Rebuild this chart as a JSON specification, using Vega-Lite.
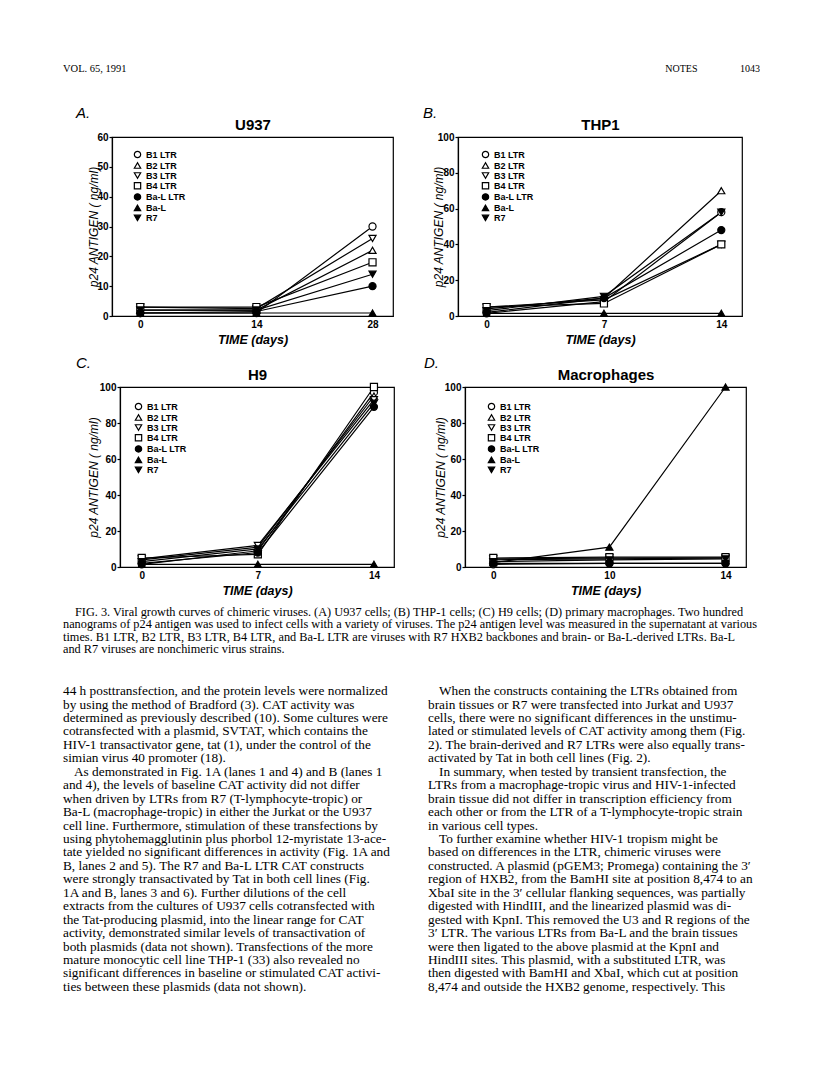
{
  "$schema": "https://vega.github.io/schema/vega-lite/v6.json",
  "background": "white",
  "padding": {"left": 63, "top": 64, "right": 0, "bottom": 0},
  "spacing": 8,
  "config": {
    "font": "Liberation Sans",
    "view": {"stroke": null},
    "axis": {"grid": false},
    "title": {"color": "black"},
    "legend": {"labelFont": "Liberation Sans", "labelFontWeight": "bold", "labelFontSize": 9, "labelColor": "black", "symbolStrokeColor": "black", "symbolStrokeWidth": 1.2, "symbolSize": 40, "rowPadding": -1.8, "labelOffset": 4, "padding": 0}
  },
  "resolve": {"scale": {"shape": "independent", "fill": "independent", "stroke": "independent"}, "legend": {"shape": "independent", "fill": "independent", "stroke": "independent"}},
  "datasets": {
    "header": [
      {"side": "left", "row": 1, "text": "VOL. 65, 1991"},
      {"side": "right", "row": 1, "text": "NOTES\u00a0\u00a0\u00a0\u00a0\u00a0\u00a0\u00a0\u00a0\u00a0\u00a0\u00a0\u00a0\u00a0\u00a0\u00a0\u00a0\u00a01043"}
    ],
    "growth": [
      {"panel": "A", "day": 0, "series": "B1 LTR", "p24": 1},
      {"panel": "A", "day": 14, "series": "B1 LTR", "p24": 1},
      {"panel": "A", "day": 28, "series": "B1 LTR", "p24": 30},
      {"panel": "A", "day": 0, "series": "B2 LTR", "p24": 2},
      {"panel": "A", "day": 14, "series": "B2 LTR", "p24": 2},
      {"panel": "A", "day": 28, "series": "B2 LTR", "p24": 22},
      {"panel": "A", "day": 0, "series": "B3 LTR", "p24": 3},
      {"panel": "A", "day": 14, "series": "B3 LTR", "p24": 2.5},
      {"panel": "A", "day": 28, "series": "B3 LTR", "p24": 26},
      {"panel": "A", "day": 0, "series": "B4 LTR", "p24": 3},
      {"panel": "A", "day": 14, "series": "B4 LTR", "p24": 3},
      {"panel": "A", "day": 28, "series": "B4 LTR", "p24": 18},
      {"panel": "A", "day": 0, "series": "Ba-L LTR", "p24": 1},
      {"panel": "A", "day": 14, "series": "Ba-L LTR", "p24": 1.5},
      {"panel": "A", "day": 28, "series": "Ba-L LTR", "p24": 10},
      {"panel": "A", "day": 0, "series": "Ba-L", "p24": 1},
      {"panel": "A", "day": 14, "series": "Ba-L", "p24": 1},
      {"panel": "A", "day": 28, "series": "Ba-L", "p24": 1},
      {"panel": "A", "day": 0, "series": "R7", "p24": 2},
      {"panel": "A", "day": 14, "series": "R7", "p24": 2},
      {"panel": "A", "day": 28, "series": "R7", "p24": 14},

      {"panel": "B", "day": 0, "series": "B1 LTR", "p24": 1.5},
      {"panel": "B", "day": 7, "series": "B1 LTR", "p24": 8},
      {"panel": "B", "day": 14, "series": "B1 LTR", "p24": 58},
      {"panel": "B", "day": 0, "series": "B2 LTR", "p24": 4},
      {"panel": "B", "day": 7, "series": "B2 LTR", "p24": 10},
      {"panel": "B", "day": 14, "series": "B2 LTR", "p24": 70},
      {"panel": "B", "day": 0, "series": "B3 LTR", "p24": 5},
      {"panel": "B", "day": 7, "series": "B3 LTR", "p24": 9},
      {"panel": "B", "day": 14, "series": "B3 LTR", "p24": 40},
      {"panel": "B", "day": 0, "series": "B4 LTR", "p24": 5},
      {"panel": "B", "day": 7, "series": "B4 LTR", "p24": 7},
      {"panel": "B", "day": 14, "series": "B4 LTR", "p24": 40},
      {"panel": "B", "day": 0, "series": "Ba-L LTR", "p24": 2},
      {"panel": "B", "day": 7, "series": "Ba-L LTR", "p24": 10},
      {"panel": "B", "day": 14, "series": "Ba-L LTR", "p24": 48},
      {"panel": "B", "day": 0, "series": "Ba-L", "p24": 1.5},
      {"panel": "B", "day": 7, "series": "Ba-L", "p24": 1.5},
      {"panel": "B", "day": 14, "series": "Ba-L", "p24": 1.5},
      {"panel": "B", "day": 0, "series": "R7", "p24": 3},
      {"panel": "B", "day": 7, "series": "R7", "p24": 11},
      {"panel": "B", "day": 14, "series": "R7", "p24": 58},

      {"panel": "C", "day": 0, "series": "B1 LTR", "p24": 1.5},
      {"panel": "C", "day": 7, "series": "B1 LTR", "p24": 9},
      {"panel": "C", "day": 14, "series": "B1 LTR", "p24": 97},
      {"panel": "C", "day": 0, "series": "B2 LTR", "p24": 4},
      {"panel": "C", "day": 7, "series": "B2 LTR", "p24": 11},
      {"panel": "C", "day": 14, "series": "B2 LTR", "p24": 95},
      {"panel": "C", "day": 0, "series": "B3 LTR", "p24": 4.5},
      {"panel": "C", "day": 7, "series": "B3 LTR", "p24": 12},
      {"panel": "C", "day": 14, "series": "B3 LTR", "p24": 93},
      {"panel": "C", "day": 0, "series": "B4 LTR", "p24": 5},
      {"panel": "C", "day": 7, "series": "B4 LTR", "p24": 7},
      {"panel": "C", "day": 14, "series": "B4 LTR", "p24": 100},
      {"panel": "C", "day": 0, "series": "Ba-L LTR", "p24": 2},
      {"panel": "C", "day": 7, "series": "Ba-L LTR", "p24": 8},
      {"panel": "C", "day": 14, "series": "Ba-L LTR", "p24": 89},
      {"panel": "C", "day": 0, "series": "Ba-L", "p24": 1.5},
      {"panel": "C", "day": 7, "series": "Ba-L", "p24": 1.5},
      {"panel": "C", "day": 14, "series": "Ba-L", "p24": 1.5},
      {"panel": "C", "day": 0, "series": "R7", "p24": 3},
      {"panel": "C", "day": 7, "series": "R7", "p24": 10},
      {"panel": "C", "day": 14, "series": "R7", "p24": 91},

      {"panel": "D", "day": 0, "series": "B1 LTR", "p24": 1.5},
      {"panel": "D", "day": 10, "series": "B1 LTR", "p24": 2},
      {"panel": "D", "day": 14, "series": "B1 LTR", "p24": 2},
      {"panel": "D", "day": 0, "series": "B2 LTR", "p24": 4},
      {"panel": "D", "day": 10, "series": "B2 LTR", "p24": 4.5},
      {"panel": "D", "day": 14, "series": "B2 LTR", "p24": 5},
      {"panel": "D", "day": 0, "series": "B3 LTR", "p24": 4.5},
      {"panel": "D", "day": 10, "series": "B3 LTR", "p24": 5},
      {"panel": "D", "day": 14, "series": "B3 LTR", "p24": 5},
      {"panel": "D", "day": 0, "series": "B4 LTR", "p24": 5},
      {"panel": "D", "day": 10, "series": "B4 LTR", "p24": 5.5},
      {"panel": "D", "day": 14, "series": "B4 LTR", "p24": 5.5},
      {"panel": "D", "day": 0, "series": "Ba-L LTR", "p24": 2},
      {"panel": "D", "day": 10, "series": "Ba-L LTR", "p24": 2},
      {"panel": "D", "day": 14, "series": "Ba-L LTR", "p24": 2},
      {"panel": "D", "day": 0, "series": "Ba-L", "p24": 2.5},
      {"panel": "D", "day": 10, "series": "Ba-L", "p24": 11},
      {"panel": "D", "day": 14, "series": "Ba-L", "p24": 100},
      {"panel": "D", "day": 0, "series": "R7", "p24": 3},
      {"panel": "D", "day": 10, "series": "R7", "p24": 4},
      {"panel": "D", "day": 14, "series": "R7", "p24": 4.5}
    ],
    "caption": [
      {"col": "left", "line": 1, "para": true, "text": "FIG. 3. Viral growth curves of chimeric viruses. (A) U937 cells; (B) THP-1 cells; (C) H9 cells; (D) primary macrophages. Two hundred"},
      {"col": "left", "line": 2, "para": false, "text": "nanograms of p24 antigen was used to infect cells with a variety of viruses. The p24 antigen level was measured in the supernatant at various"},
      {"col": "left", "line": 3, "para": false, "text": "times. B1 LTR, B2 LTR, B3 LTR, B4 LTR, and Ba-L LTR are viruses with R7 HXB2 backbones and brain- or Ba-L-derived LTRs. Ba-L"},
      {"col": "left", "line": 4, "para": false, "text": "and R7 viruses are nonchimeric virus strains."}
    ],
    "body": [
      {"col": "left", "line": 1, "para": false, "text": "44 h posttransfection, and the protein levels were normalized"},
      {"col": "left", "line": 2, "para": false, "text": "by using the method of Bradford (3). CAT activity was"},
      {"col": "left", "line": 3, "para": false, "text": "determined as previously described (10). Some cultures were"},
      {"col": "left", "line": 4, "para": false, "text": "cotransfected with a plasmid, SVTAT, which contains the"},
      {"col": "left", "line": 5, "para": false, "text": "HIV-1 transactivator gene, tat (1), under the control of the"},
      {"col": "left", "line": 6, "para": false, "text": "simian virus 40 promoter (18)."},
      {"col": "left", "line": 7, "para": true, "text": "As demonstrated in Fig. 1A (lanes 1 and 4) and B (lanes 1"},
      {"col": "left", "line": 8, "para": false, "text": "and 4), the levels of baseline CAT activity did not differ"},
      {"col": "left", "line": 9, "para": false, "text": "when driven by LTRs from R7 (T-lymphocyte-tropic) or"},
      {"col": "left", "line": 10, "para": false, "text": "Ba-L (macrophage-tropic) in either the Jurkat or the U937"},
      {"col": "left", "line": 11, "para": false, "text": "cell line. Furthermore, stimulation of these transfections by"},
      {"col": "left", "line": 12, "para": false, "text": "using phytohemagglutinin plus phorbol 12-myristate 13-ace-"},
      {"col": "left", "line": 13, "para": false, "text": "tate yielded no significant differences in activity (Fig. 1A and"},
      {"col": "left", "line": 14, "para": false, "text": "B, lanes 2 and 5). The R7 and Ba-L LTR CAT constructs"},
      {"col": "left", "line": 15, "para": false, "text": "were strongly transactivated by Tat in both cell lines (Fig."},
      {"col": "left", "line": 16, "para": false, "text": "1A and B, lanes 3 and 6). Further dilutions of the cell"},
      {"col": "left", "line": 17, "para": false, "text": "extracts from the cultures of U937 cells cotransfected with"},
      {"col": "left", "line": 18, "para": false, "text": "the Tat-producing plasmid, into the linear range for CAT"},
      {"col": "left", "line": 19, "para": false, "text": "activity, demonstrated similar levels of transactivation of"},
      {"col": "left", "line": 20, "para": false, "text": "both plasmids (data not shown). Transfections of the more"},
      {"col": "left", "line": 21, "para": false, "text": "mature monocytic cell line THP-1 (33) also revealed no"},
      {"col": "left", "line": 22, "para": false, "text": "significant differences in baseline or stimulated CAT activi-"},
      {"col": "left", "line": 23, "para": false, "text": "ties between these plasmids (data not shown)."},
      {"col": "right", "line": 1, "para": true, "text": "When the constructs containing the LTRs obtained from"},
      {"col": "right", "line": 2, "para": false, "text": "brain tissues or R7 were transfected into Jurkat and U937"},
      {"col": "right", "line": 3, "para": false, "text": "cells, there were no significant differences in the unstimu-"},
      {"col": "right", "line": 4, "para": false, "text": "lated or stimulated levels of CAT activity among them (Fig."},
      {"col": "right", "line": 5, "para": false, "text": "2). The brain-derived and R7 LTRs were also equally trans-"},
      {"col": "right", "line": 6, "para": false, "text": "activated by Tat in both cell lines (Fig. 2)."},
      {"col": "right", "line": 7, "para": true, "text": "In summary, when tested by transient transfection, the"},
      {"col": "right", "line": 8, "para": false, "text": "LTRs from a macrophage-tropic virus and HIV-1-infected"},
      {"col": "right", "line": 9, "para": false, "text": "brain tissue did not differ in transcription efficiency from"},
      {"col": "right", "line": 10, "para": false, "text": "each other or from the LTR of a T-lymphocyte-tropic strain"},
      {"col": "right", "line": 11, "para": false, "text": "in various cell types."},
      {"col": "right", "line": 12, "para": true, "text": "To further examine whether HIV-1 tropism might be"},
      {"col": "right", "line": 13, "para": false, "text": "based on differences in the LTR, chimeric viruses were"},
      {"col": "right", "line": 14, "para": false, "text": "constructed. A plasmid (pGEM3; Promega) containing the 3\u2032"},
      {"col": "right", "line": 15, "para": false, "text": "region of HXB2, from the BamHI site at position 8,474 to an"},
      {"col": "right", "line": 16, "para": false, "text": "XbaI site in the 3\u2032 cellular flanking sequences, was partially"},
      {"col": "right", "line": 17, "para": false, "text": "digested with HindIII, and the linearized plasmid was di-"},
      {"col": "right", "line": 18, "para": false, "text": "gested with KpnI. This removed the U3 and R regions of the"},
      {"col": "right", "line": 19, "para": false, "text": "3\u2032 LTR. The various LTRs from Ba-L and the brain tissues"},
      {"col": "right", "line": 20, "para": false, "text": "were then ligated to the above plasmid at the KpnI and"},
      {"col": "right", "line": 21, "para": false, "text": "HindIII sites. This plasmid, with a substituted LTR, was"},
      {"col": "right", "line": 22, "para": false, "text": "then digested with BamHI and XbaI, which cut at position"},
      {"col": "right", "line": 23, "para": false, "text": "8,474 and outside the HXB2 genome, respectively. This"}
    ]
  },
  "vconcat": [
    {
      "width": 697, "height": 33,
      "view": {"stroke": null, "fill": "white"},
      "data": {"name": "header"},
      "encoding": {
        "x": {"field": "side", "type": "ordinal", "scale": {"type": "point", "domain": ["left", "right"], "padding": 0}, "axis": null},
        "y": {"field": "row", "type": "ordinal", "scale": {"type": "point", "padding": 0, "align": 0}, "axis": null},
        "text": {"field": "text"}
      },
      "layer": [
        {
          "transform": [{"filter": "datum.side === 'left'"}],
          "mark": {"type": "text", "align": "left", "baseline": "top", "font": "Liberation Serif", "fontSize": 10.5, "color": "black"}
        },
        {
          "transform": [{"filter": "datum.side === 'right'"}],
          "mark": {"type": "text", "align": "right", "baseline": "top", "font": "Liberation Serif", "fontSize": 10, "color": "black"}
        }
      ]
    },
    {
      "spacing": 8,
      "resolve": {"scale": {"shape": "independent", "fill": "independent", "stroke": "independent"}, "legend": {"shape": "independent", "fill": "independent", "stroke": "independent"}},
      "vconcat": [
        {
          "spacing": 0,
          "resolve": {"scale": {"shape": "independent", "fill": "independent", "stroke": "independent"}, "legend": {"shape": "independent", "fill": "independent", "stroke": "independent"}},
          "hconcat": [
            {"width": 12, "height": 1, "view": {"stroke": null, "fill": "white"}, "data": {"values": []}, "mark": "point", "encoding": {}},
            {
              "spacing": 28,
              "resolve": {"scale": {"shape": "independent", "fill": "independent", "stroke": "independent"}, "legend": {"shape": "independent", "fill": "independent", "stroke": "independent"}},
              "hconcat": [
                {
                  "width": 281, "height": 179,
                  "title": {"text": "A.", "anchor": "start", "frame": "bounds", "dx": -11, "offset": -4, "font": "Liberation Sans", "fontSize": 15, "fontStyle": "italic", "fontWeight": "normal", "color": "black"},
                  "view": {"stroke": "black", "strokeWidth": 1.2},
                  "data": {"name": "growth"},
                  "transform": [{"filter": "datum.panel === 'A'"}],
                  "encoding": {
                    "y": {"field": "p24", "type": "quantitative", "scale": {"domain": [0, 60], "nice": false},
                      "axis": {"title": "p24 ANTIGEN ( ng/ml)", "titleFont": "Liberation Sans", "titleFontStyle": "italic", "titleFontWeight": "normal", "titleFontSize": 12, "titleColor": "black", "titleX": -12, "labelFont": "Liberation Sans", "labelFontWeight": "bold", "labelFontSize": 10, "labelColor": "black", "labelPadding": 1, "tickSize": 3, "tickColor": "black", "tickWidth": 1.2, "domainColor": "black", "domainWidth": 1.2, "grid": false, "values": [0, 10, 20, 30, 40, 50, 60]}}
                  },
                  "layer": [
                    {
                      "mark": {"type": "line", "color": "black", "strokeWidth": 1.2},
                      "encoding": {
                        "x": {"field": "day", "type": "ordinal", "scale": {"type": "point", "domain": [0, 14, 28], "padding": 0.21, "align": 0.58},
                          "axis": {"orient": "top", "title": "U937", "labels": false, "ticks": false, "domain": false, "titleFont": "Liberation Sans", "titleFontSize": 15, "titleFontWeight": "bold", "titleColor": "black", "titlePadding": 5}},
                        "detail": {"field": "series"}
                      }
                    },
                    {
                      "mark": {"type": "point", "filled": true, "strokeWidth": 1.2, "size": 50, "opacity": 1},
                      "encoding": {
                        "x": {"field": "day", "type": "ordinal", "scale": {"type": "point", "domain": [0, 14, 28], "padding": 0.21, "align": 0.58},
                          "axis": {"orient": "bottom", "title": "TIME (days)", "titleFont": "Liberation Sans", "titleFontStyle": "italic", "titleFontWeight": "bold", "titleFontSize": 12.5, "titleColor": "black", "titlePadding": 4, "labelAngle": 0, "labelFont": "Liberation Sans", "labelFontWeight": "bold", "labelFontSize": 10, "labelColor": "black", "labelPadding": 3, "ticks": false, "domainColor": "black", "domainWidth": 1.2}},
                        "shape": {"field": "series", "type": "nominal", "scale": {"domain": ["B1 LTR", "B2 LTR", "B3 LTR", "B4 LTR", "Ba-L LTR", "Ba-L", "R7"], "range": ["circle", "triangle-up", "triangle-down", "square", "circle", "triangle-up", "triangle-down"]},
                          "legend": {"title": null, "orient": "none", "legendX": 21, "legendY": 13}},
                        "fill": {"field": "series", "type": "nominal", "scale": {"domain": ["B1 LTR", "B2 LTR", "B3 LTR", "B4 LTR", "Ba-L LTR", "Ba-L", "R7"], "range": ["white", "white", "white", "white", "black", "black", "black"]},
                          "legend": {"title": null, "orient": "none", "legendX": 21, "legendY": 13}},
                        "stroke": {"field": "series", "type": "nominal", "scale": {"domain": ["B1 LTR", "B2 LTR", "B3 LTR", "B4 LTR", "Ba-L LTR", "Ba-L", "R7"], "range": ["black", "black", "black", "black", "black", "black", "black"]},
                          "legend": {"title": null, "orient": "none", "legendX": 21, "legendY": 13}}
                      }
                    }
                  ],
                  "resolve": {"axis": {"x": "independent"}}
                },
                {
                  "width": 284, "height": 179,
                  "title": {"text": "B.", "anchor": "start", "frame": "bounds", "dx": -9, "offset": -4, "font": "Liberation Sans", "fontSize": 15, "fontStyle": "italic", "fontWeight": "normal", "color": "black"},
                  "view": {"stroke": "black", "strokeWidth": 1.2},
                  "data": {"name": "growth"},
                  "transform": [{"filter": "datum.panel === 'B'"}],
                  "encoding": {
                    "y": {"field": "p24", "type": "quantitative", "scale": {"domain": [0, 100], "nice": false},
                      "axis": {"title": "p24 ANTIGEN ( ng/ml)", "titleFont": "Liberation Sans", "titleFontStyle": "italic", "titleFontWeight": "normal", "titleFontSize": 12, "titleColor": "black", "titleX": -13, "labelFont": "Liberation Sans", "labelFontWeight": "bold", "labelFontSize": 10, "labelColor": "black", "labelPadding": 1, "tickSize": 3, "tickColor": "black", "tickWidth": 1.2, "domainColor": "black", "domainWidth": 1.2, "grid": false, "values": [0, 20, 40, 60, 80, 100]}}
                  },
                  "layer": [
                    {
                      "mark": {"type": "line", "color": "black", "strokeWidth": 1.2},
                      "encoding": {
                        "x": {"field": "day", "type": "ordinal", "scale": {"type": "point", "domain": [0, 7, 14], "padding": 0.21, "align": 0.58},
                          "axis": {"orient": "top", "title": "THP1", "labels": false, "ticks": false, "domain": false, "titleFont": "Liberation Sans", "titleFontSize": 15, "titleFontWeight": "bold", "titleColor": "black", "titlePadding": 5}},
                        "detail": {"field": "series"}
                      }
                    },
                    {
                      "mark": {"type": "point", "filled": true, "strokeWidth": 1.2, "size": 50, "opacity": 1},
                      "encoding": {
                        "x": {"field": "day", "type": "ordinal", "scale": {"type": "point", "domain": [0, 7, 14], "padding": 0.21, "align": 0.58},
                          "axis": {"orient": "bottom", "title": "TIME (days)", "titleFont": "Liberation Sans", "titleFontStyle": "italic", "titleFontWeight": "bold", "titleFontSize": 12.5, "titleColor": "black", "titlePadding": 4, "labelAngle": 0, "labelFont": "Liberation Sans", "labelFontWeight": "bold", "labelFontSize": 10, "labelColor": "black", "labelPadding": 3, "ticks": false, "domainColor": "black", "domainWidth": 1.2}},
                        "shape": {"field": "series", "type": "nominal", "scale": {"domain": ["B1 LTR", "B2 LTR", "B3 LTR", "B4 LTR", "Ba-L LTR", "Ba-L", "R7"], "range": ["circle", "triangle-up", "triangle-down", "square", "circle", "triangle-up", "triangle-down"]},
                          "legend": {"title": null, "orient": "none", "legendX": 23, "legendY": 13}},
                        "fill": {"field": "series", "type": "nominal", "scale": {"domain": ["B1 LTR", "B2 LTR", "B3 LTR", "B4 LTR", "Ba-L LTR", "Ba-L", "R7"], "range": ["white", "white", "white", "white", "black", "black", "black"]},
                          "legend": {"title": null, "orient": "none", "legendX": 23, "legendY": 13}},
                        "stroke": {"field": "series", "type": "nominal", "scale": {"domain": ["B1 LTR", "B2 LTR", "B3 LTR", "B4 LTR", "Ba-L LTR", "Ba-L", "R7"], "range": ["black", "black", "black", "black", "black", "black", "black"]},
                          "legend": {"title": null, "orient": "none", "legendX": 23, "legendY": 13}}
                      }
                    }
                  ],
                  "resolve": {"axis": {"x": "independent"}}
                }
              ]
            }
          ]
        },
        {
          "spacing": 0,
          "resolve": {"scale": {"shape": "independent", "fill": "independent", "stroke": "independent"}, "legend": {"shape": "independent", "fill": "independent", "stroke": "independent"}},
          "hconcat": [
            {"width": 12, "height": 1, "view": {"stroke": null, "fill": "white"}, "data": {"values": []}, "mark": "point", "encoding": {}},
            {
              "spacing": 28,
              "resolve": {"scale": {"shape": "independent", "fill": "independent", "stroke": "independent"}, "legend": {"shape": "independent", "fill": "independent", "stroke": "independent"}},
              "hconcat": [
                {
                  "width": 274, "height": 180,
                  "title": {"text": "C.", "anchor": "start", "frame": "bounds", "dx": -11, "offset": -4, "font": "Liberation Sans", "fontSize": 15, "fontStyle": "italic", "fontWeight": "normal", "color": "black"},
                  "view": {"stroke": "black", "strokeWidth": 1.2},
                  "data": {"name": "growth"},
                  "transform": [{"filter": "datum.panel === 'C'"}],
                  "encoding": {
                    "y": {"field": "p24", "type": "quantitative", "scale": {"domain": [0, 100], "nice": false},
                      "axis": {"title": "p24 ANTIGEN ( ng/ml)", "titleFont": "Liberation Sans", "titleFontStyle": "italic", "titleFontWeight": "normal", "titleFontSize": 12, "titleColor": "black", "titleX": -20, "labelFont": "Liberation Sans", "labelFontWeight": "bold", "labelFontSize": 10, "labelColor": "black", "labelPadding": 1, "tickSize": 3, "tickColor": "black", "tickWidth": 1.2, "domainColor": "black", "domainWidth": 1.2, "grid": false, "values": [0, 20, 40, 60, 80, 100]}}
                  },
                  "layer": [
                    {
                      "mark": {"type": "line", "color": "black", "strokeWidth": 1.2},
                      "encoding": {
                        "x": {"field": "day", "type": "ordinal", "scale": {"type": "point", "domain": [0, 7, 14], "padding": 0.18, "align": 0.52},
                          "axis": {"orient": "top", "title": "H9", "labels": false, "ticks": false, "domain": false, "titleFont": "Liberation Sans", "titleFontSize": 15, "titleFontWeight": "bold", "titleColor": "black", "titlePadding": 5}},
                        "detail": {"field": "series"}
                      }
                    },
                    {
                      "mark": {"type": "point", "filled": true, "strokeWidth": 1.2, "size": 50, "opacity": 1},
                      "encoding": {
                        "x": {"field": "day", "type": "ordinal", "scale": {"type": "point", "domain": [0, 7, 14], "padding": 0.18, "align": 0.52},
                          "axis": {"orient": "bottom", "title": "TIME (days)", "titleFont": "Liberation Sans", "titleFontStyle": "italic", "titleFontWeight": "bold", "titleFontSize": 12.5, "titleColor": "black", "titlePadding": 4, "labelAngle": 0, "labelFont": "Liberation Sans", "labelFontWeight": "bold", "labelFontSize": 10, "labelColor": "black", "labelPadding": 3, "ticks": false, "domainColor": "black", "domainWidth": 1.2}},
                        "shape": {"field": "series", "type": "nominal", "scale": {"domain": ["B1 LTR", "B2 LTR", "B3 LTR", "B4 LTR", "Ba-L LTR", "Ba-L", "R7"], "range": ["circle", "triangle-up", "triangle-down", "square", "circle", "triangle-up", "triangle-down"]},
                          "legend": {"title": null, "orient": "none", "legendX": 14, "legendY": 15}},
                        "fill": {"field": "series", "type": "nominal", "scale": {"domain": ["B1 LTR", "B2 LTR", "B3 LTR", "B4 LTR", "Ba-L LTR", "Ba-L", "R7"], "range": ["white", "white", "white", "white", "black", "black", "black"]},
                          "legend": {"title": null, "orient": "none", "legendX": 14, "legendY": 15}},
                        "stroke": {"field": "series", "type": "nominal", "scale": {"domain": ["B1 LTR", "B2 LTR", "B3 LTR", "B4 LTR", "Ba-L LTR", "Ba-L", "R7"], "range": ["black", "black", "black", "black", "black", "black", "black"]},
                          "legend": {"title": null, "orient": "none", "legendX": 14, "legendY": 15}}
                      }
                    }
                  ],
                  "resolve": {"axis": {"x": "independent"}}
                },
                {
                  "width": 281, "height": 180,
                  "title": {"text": "D.", "anchor": "start", "frame": "bounds", "dx": -10, "offset": -4, "font": "Liberation Sans", "fontSize": 15, "fontStyle": "italic", "fontWeight": "normal", "color": "black"},
                  "view": {"stroke": "black", "strokeWidth": 1.2},
                  "data": {"name": "growth"},
                  "transform": [{"filter": "datum.panel === 'D'"}],
                  "encoding": {
                    "y": {"field": "p24", "type": "quantitative", "scale": {"domain": [0, 100], "nice": false},
                      "axis": {"title": "p24 ANTIGEN ( ng/ml)", "titleFont": "Liberation Sans", "titleFontStyle": "italic", "titleFontWeight": "normal", "titleFontSize": 12, "titleColor": "black", "titleX": -18, "labelFont": "Liberation Sans", "labelFontWeight": "bold", "labelFontSize": 10, "labelColor": "black", "labelPadding": 1, "tickSize": 3, "tickColor": "black", "tickWidth": 1.2, "domainColor": "black", "domainWidth": 1.2, "grid": false, "values": [0, 20, 40, 60, 80, 100]}}
                  },
                  "layer": [
                    {
                      "mark": {"type": "line", "color": "black", "strokeWidth": 1.2},
                      "encoding": {
                        "x": {"field": "day", "type": "ordinal", "scale": {"type": "point", "domain": [0, 10, 14], "padding": 0.21, "align": 0.58},
                          "axis": {"orient": "top", "title": "Macrophages", "labels": false, "ticks": false, "domain": false, "titleFont": "Liberation Sans", "titleFontSize": 15, "titleFontWeight": "bold", "titleColor": "black", "titlePadding": 5}},
                        "detail": {"field": "series"}
                      }
                    },
                    {
                      "mark": {"type": "point", "filled": true, "strokeWidth": 1.2, "size": 50, "opacity": 1},
                      "encoding": {
                        "x": {"field": "day", "type": "ordinal", "scale": {"type": "point", "domain": [0, 10, 14], "padding": 0.21, "align": 0.58},
                          "axis": {"orient": "bottom", "title": "TIME (days)", "titleFont": "Liberation Sans", "titleFontStyle": "italic", "titleFontWeight": "bold", "titleFontSize": 12.5, "titleColor": "black", "titlePadding": 4, "labelAngle": 0, "labelFont": "Liberation Sans", "labelFontWeight": "bold", "labelFontSize": 10, "labelColor": "black", "labelPadding": 3, "ticks": false, "domainColor": "black", "domainWidth": 1.2}},
                        "shape": {"field": "series", "type": "nominal", "scale": {"domain": ["B1 LTR", "B2 LTR", "B3 LTR", "B4 LTR", "Ba-L LTR", "Ba-L", "R7"], "range": ["circle", "triangle-up", "triangle-down", "square", "circle", "triangle-up", "triangle-down"]},
                          "legend": {"title": null, "orient": "none", "legendX": 22, "legendY": 15}},
                        "fill": {"field": "series", "type": "nominal", "scale": {"domain": ["B1 LTR", "B2 LTR", "B3 LTR", "B4 LTR", "Ba-L LTR", "Ba-L", "R7"], "range": ["white", "white", "white", "white", "black", "black", "black"]},
                          "legend": {"title": null, "orient": "none", "legendX": 22, "legendY": 15}},
                        "stroke": {"field": "series", "type": "nominal", "scale": {"domain": ["B1 LTR", "B2 LTR", "B3 LTR", "B4 LTR", "Ba-L LTR", "Ba-L", "R7"], "range": ["black", "black", "black", "black", "black", "black", "black"]},
                          "legend": {"title": null, "orient": "none", "legendX": 22, "legendY": 15}}
                      }
                    }
                  ],
                  "resolve": {"axis": {"x": "independent"}}
                }
              ]
            }
          ]
        }
      ]
    },
    {
      "width": 697, "height": 61.5,
      "view": {"stroke": null, "fill": "white"},
      "data": {"name": "caption"},
      "encoding": {
        "x": {"field": "col", "type": "ordinal", "scale": {"type": "point", "domain": ["left", "right"], "padding": 0}, "axis": null},
        "y": {"field": "line", "type": "ordinal", "scale": {"type": "point", "domain": [1, 2, 3, 4], "padding": 1, "align": 0}, "axis": null},
        "text": {"field": "text"}
      },
      "layer": [
        {
          "transform": [{"filter": "!datum.para"}],
          "mark": {"type": "text", "align": "left", "baseline": "top", "font": "Liberation Serif", "fontSize": 12.3, "color": "black"}
        },
        {
          "transform": [{"filter": "datum.para"}],
          "mark": {"type": "text", "align": "left", "baseline": "top", "font": "Liberation Serif", "fontSize": 12.3, "color": "black", "dx": 12}
        }
      ]
    },
    {
      "width": 365, "height": 303.9,
      "view": {"stroke": null, "fill": "white"},
      "data": {"name": "body"},
      "encoding": {
        "x": {"field": "col", "type": "ordinal", "scale": {"type": "point", "domain": ["left", "right"], "padding": 0}, "axis": null},
        "y": {"field": "line", "type": "ordinal", "scale": {"type": "point", "domain": [1, 2, 3, 4, 5, 6, 7, 8, 9, 10, 11, 12, 13, 14, 15, 16, 17, 18, 19, 20, 21, 22, 23], "padding": 0.3, "align": 1}, "axis": null},
        "text": {"field": "text"}
      },
      "layer": [
        {
          "transform": [{"filter": "!datum.para"}],
          "mark": {"type": "text", "align": "left", "baseline": "top", "font": "Liberation Serif", "fontSize": 13.3, "color": "black"}
        },
        {
          "transform": [{"filter": "datum.para"}],
          "mark": {"type": "text", "align": "left", "baseline": "top", "font": "Liberation Serif", "fontSize": 13.3, "color": "black", "dx": 11}
        }
      ]
    }
  ]
}
